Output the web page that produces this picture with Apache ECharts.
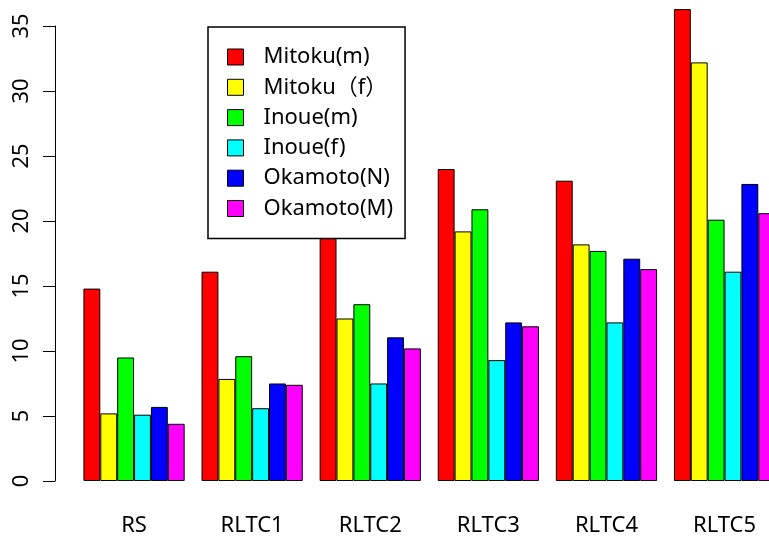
<!DOCTYPE html>
<html>
<head>
<meta charset="utf-8">
<script src="https://cdn.jsdelivr.net/npm/echarts@6/dist/echarts.min.js"></script>
<style>
html,body{margin:0;padding:0;background:#fff;overflow:hidden;width:769px;height:537px;}
#main{width:790px;height:537px;}
</style>
</head>
<body>
<div id="main"></div>
<script>
const categories = ['RS', 'RLTC1', 'RLTC2', 'RLTC3', 'RLTC4', 'RLTC5'];
const seriesNames = ['Mitoku(m)', 'Mitoku（f）', 'Inoue(m)', 'Inoue(f)', 'Okamoto(N)', 'Okamoto(M)'];
const mitokuM  = [14.8, 16.1, 19.5, 24.0, 23.1, 36.3];
const mitokuF  = [5.2, 7.85, 12.5, 19.2, 18.2, 32.2];
const inoueM   = [9.5, 9.6, 13.6, 20.9, 17.7, 20.1];
const inoueF   = [5.1, 5.6, 7.5, 9.3, 12.2, 16.1];
const okamotoN = [5.7, 7.5, 11.05, 12.2, 17.1, 22.85];
const okamotoM = [4.4, 7.4, 10.2, 11.9, 16.3, 20.6];
const yTicks = [0, 5, 10, 15, 20, 25, 30, 35];
const colors = ['#FF0000', '#FFFF00', '#00FF00', '#00FFFF', '#0000FF', '#FF00FF'];
const values = [mitokuM, mitokuF, inoueM, inoueF, okamotoN, okamotoM];

const font = "'Noto Sans', 'Noto Sans CJK JP', sans-serif";
const chart = echarts.init(document.getElementById('main'), null, {renderer: 'canvas'});
chart.setOption({
  backgroundColor: '#ffffff',
  animation: false,
  grid: {left: 75, top: 26, width: 708.6, height: 456},
  legend: {
    orient: 'vertical',
    left: 208, top: 27,
    padding: [19, 12, 19, 19],
    itemWidth: 16, itemHeight: 16, itemGap: 8.3,
    icon: 'rect',
    backgroundColor: '#ffffff',
    borderColor: '#000', borderWidth: 1.5,
    textStyle: {fontFamily: font, fontSize: 22, color: '#000', lineHeight: 22, padding: [0, 0, 0, 15]},
    itemStyle: {borderColor: '#000', borderWidth: 1},
    data: seriesNames
  },
  xAxis: {
    type: 'category',
    data: categories,
    axisLine: {show: false},
    axisTick: {show: false},
    axisLabel: {fontFamily: font, fontSize: 22, color: '#000', margin: 34}
  },
  yAxis: {
    type: 'value',
    min: yTicks[0], max: yTicks[yTicks.length - 1], interval: 5,
    offset: 20,
    splitLine: {show: false},
    axisLine: {show: true, lineStyle: {color: '#000', width: 1}},
    axisTick: {show: true, length: 12, lineStyle: {color: '#000', width: 1}},
    axisLabel: {fontFamily: font, fontSize: 22, color: '#000', rotate: 90, margin: 22}
  },
  series: seriesNames.map((name, i) => ({
    name: name,
    type: 'bar',
    data: values[i],
    clip: false,
    barGap: '0%',
    barCategoryGap: '14.2857%',
    itemStyle: {color: colors[i], borderColor: '#000', borderWidth: 1}
  }))
});
</script>
</body>
</html>
